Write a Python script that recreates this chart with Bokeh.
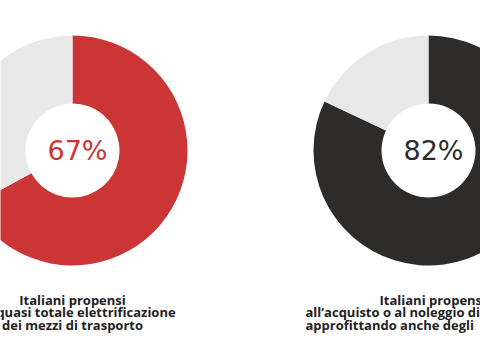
import math
from bokeh.plotting import figure
from bokeh.models import Range1d
from bokeh.core.properties import value
from bokeh.embed import file_html
from bokeh.resources import INLINE

# data
shares = [67, 82]
pct_labels = ["67%", "82%"]
main_colors = ["#cc3535", "#2d2c2a"]
rest_color = "#e8e8e8"
label_lines_left = ["Italiani propensi", "alla quasi totale elettrificazione", "dei mezzi di trasporto"]
label_lines_right = ["Italiani propensi", "all\u2019acquisto o al noleggio di", "approfittando anche degli"]

# layout (pixel coordinates, y measured upward from bottom of 360px window)
W, H = 480, 360
centers_x = [72, 428]
center_y = 360 - 150
outer_r = 115
inner_r = 47

p = figure(width=W, height=H, output_backend="svg", toolbar_location=None,
           x_range=Range1d(0, W), y_range=Range1d(0, H),
           min_border=0)
p.axis.visible = False
p.grid.visible = False
p.outline_line_color = None
p.background_fill_color = "white"
p.border_fill_color = "white"

top = math.pi / 2
for cx, s, col in zip(centers_x, shares, main_colors):
    frac = s / 100.0
    p.annular_wedge(x=[cx], y=[center_y], inner_radius=inner_r, outer_radius=outer_r,
                    start_angle=top - 2 * math.pi * frac, end_angle=top,
                    fill_color=col, line_color=None)
    p.annular_wedge(x=[cx], y=[center_y], inner_radius=inner_r, outer_radius=outer_r,
                    start_angle=top, end_angle=top + 2 * math.pi * (1 - frac),
                    fill_color=rest_color, line_color=None)

p.text(x=[cx + 5 for cx in centers_x], y=[center_y, center_y], text=pct_labels,
       text_color=main_colors, text_font=value("DejaVu Sans"), text_font_size="27px",
       text_align="center", text_baseline="middle")

# labels
base_ys = [360 - 299, 360 - 311.5, 360 - 324]
common = dict(text_baseline="alphabetic", text_font=value("Open Sans"), text_font_style="bold",
              text_font_size="13px", text_color="#222222")
p.text(x=[72], y=[base_ys[0]], text=[label_lines_left[0]], text_align="center", **common)
p.text(x=[72, 72], y=base_ys[1:], text=label_lines_left[1:], text_align="center", **common)
p.text(x=[379], y=[base_ys[0]], text=[label_lines_right[0]], text_align="left", **common)
p.text(x=[305, 305], y=base_ys[1:], text=label_lines_right[1:], text_align="left", **common)

open("out.html", "w").write(file_html(p, INLINE))
